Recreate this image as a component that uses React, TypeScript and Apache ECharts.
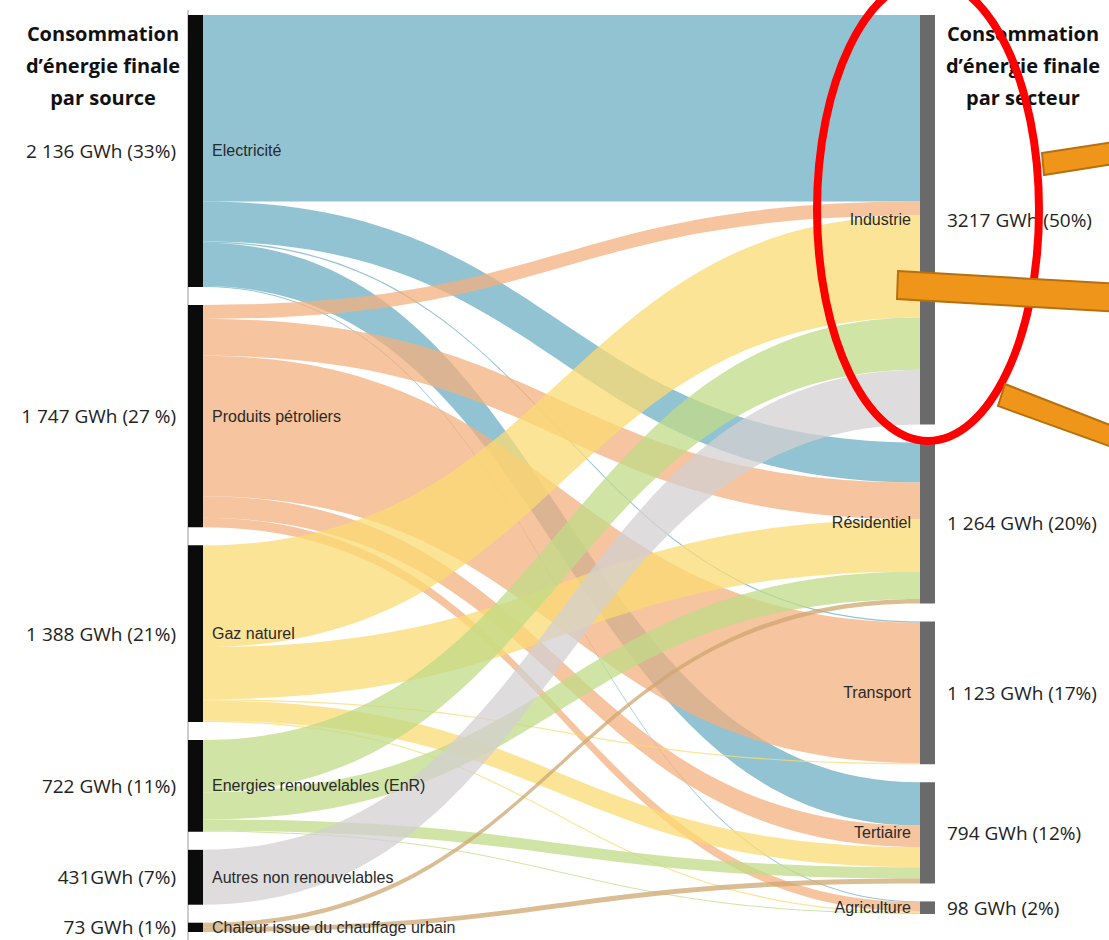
import React, { useEffect, useRef } from "react";
import * as echarts from "echarts";

// ---- Data ----
const sources = [
  "Electricité",
  "Produits pétroliers",
  "Gaz naturel",
  "Energies renouvelables (EnR)",
  "Autres non renouvelables",
  "Chaleur issue du chauffage urbain",
];
const sourceTotals = [2136, 1747, 1388, 722, 431, 73];
const sourceValueLabels = [
  "2 136 GWh (33%)",
  "1 747 GWh (27 %)",
  "1 388 GWh (21%)",
  "722 GWh (11%)",
  "431GWh (7%)",
  "73 GWh (1%)",
];

const sectors = ["Industrie", "Résidentiel", "Transport", "Tertiaire", "Agriculture"];
const sectorTotals = [3217, 1264, 1123, 794, 98];
const sectorValueLabels = [
  "3217 GWh (50%)",
  "1 264 GWh (20%)",
  "1 123 GWh (17%)",
  "794 GWh (12%)",
  "98 GWh (2%)",
];

// flows from each source to sectors (Industrie, Résidentiel, Transport, Tertiaire, Agriculture)
const flowElectricite = [1466, 314, 10, 339, 7];
const flowPetrole = [110, 290, 1103, 170, 74];
const flowGaz = [800, 410, 10, 158, 10];
const flowEnR = [410, 215, 0, 89, 8];
const flowAutres = [431, 0, 0, 0, 0];
const flowChaleur = [0, 35, 0, 38, 0];
const flows = [flowElectricite, flowPetrole, flowGaz, flowEnR, flowAutres, flowChaleur];

const sourceColors = ["#6eafc3", "#f3b07e", "#fbdb73", "#c0db87", "#d3d0d0", "#cfa770"];

const leftHeader = "Consommation\nd’énergie finale\npar source";
const rightHeader = "Consommation\nd’énergie finale\npar secteur";

export default function App() {
  const ref = useRef<HTMLDivElement>(null);

  useEffect(() => {
    if (!ref.current) return;
    const chart = echarts.init(ref.current, undefined, { renderer: "svg" });

    const links: any[] = [];
    flows.forEach((row, si) => {
      row.forEach((v, ti) => {
        if (v > 0) {
          links.push({
            source: sources[si],
            target: sectors[ti],
            value: v,
            lineStyle: { color: sourceColors[si] },
          });
        }
      });
    });

    const nodes = [
      ...sources.map((s, i) => ({
        name: s,
        value: sourceTotals[i],
        itemStyle: { color: "#0b0b0b", borderWidth: 0 },
        label: { position: "right", distance: 9 },
      })),
      ...sectors.map((s, i) => ({
        name: s,
        value: sectorTotals[i],
        itemStyle: { color: "#6a6a6a", borderWidth: 0 },
        label: { position: "left", distance: 9 },
      })),
    ];

    const valueNodes = [
      ...sources.map((s, i) => ({
        name: s,
        value: sourceTotals[i],
        itemStyle: { opacity: 0, borderWidth: 0 },
        label: { position: "left", distance: 12, formatter: sourceValueLabels[i] },
      })),
      ...sectors.map((s, i) => ({
        name: s,
        value: sectorTotals[i],
        itemStyle: { opacity: 0, borderWidth: 0 },
        label: { position: "right", distance: 12, formatter: sectorValueLabels[i] },
      })),
    ];

    const common = {
      type: "sankey",
      left: 188,
      right: 174,
      top: 15,
      bottom: 8,
      nodeWidth: 15,
      nodeGap: 18,
      layoutIterations: 0,
      draggable: false,
      emphasis: { disabled: true },
    };

    chart.setOption({
      animation: false,
      backgroundColor: "#ffffff",
      series: [
        {
          ...common,
          data: nodes,
          links,
          label: { fontFamily: "Liberation Sans", fontSize: 16, color: "#2a2a2a" },
          lineStyle: { opacity: 0.75, curveness: 0.5 },
        },
        {
          ...common,
          silent: true,
          data: valueNodes,
          links: links.map((l) => ({ source: l.source, target: l.target, value: l.value })),
          label: { fontFamily: "Open Sans", fontSize: 19, color: "#222222" },
          lineStyle: { opacity: 0 },
        },
      ],
      graphic: [
        {
          type: "line",
          z: 0,
          shape: { x1: 188, y1: 10, x2: 188, y2: 940 },
          style: { stroke: "#9a9a9a", lineWidth: 1 },
        },
        {
          type: "text",
          x: 103,
          y: 17,
          style: {
            text: leftHeader,
            fontFamily: "Open Sans",
            fontWeight: "bold",
            fontSize: 20,
            lineHeight: 32,
            fill: "#111111",
            align: "center",
            verticalAlign: "top",
          },
        },
        {
          type: "text",
          x: 1023,
          y: 17,
          style: {
            text: rightHeader,
            fontFamily: "Open Sans",
            fontWeight: "bold",
            fontSize: 20,
            lineHeight: 32,
            fill: "#111111",
            align: "center",
            verticalAlign: "top",
          },
        },
        {
          type: "ellipse",
          z: 100,
          shape: { cx: 928, cy: 210, rx: 111, ry: 231 },
          style: { fill: "none", stroke: "#ff0000", lineWidth: 8 },
        },
        {
          type: "polygon",
          z: 101,
          shape: { points: [[1042, 153], [1120, 141], [1120, 163], [1044, 175]] },
          style: { fill: "#ef9519", stroke: "#b7700e", lineWidth: 2 },
        },
        {
          type: "polygon",
          z: 101,
          shape: { points: [[898, 271], [1120, 284], [1120, 312], [897, 299]] },
          style: { fill: "#ef9519", stroke: "#b7700e", lineWidth: 2 },
        },
        {
          type: "polygon",
          z: 101,
          shape: { points: [[1005, 384], [1120, 429], [1120, 450], [998, 406]] },
          style: { fill: "#ef9519", stroke: "#b7700e", lineWidth: 2 },
        },
      ],
    });

    return () => chart.dispose();
  }, []);

  return (
    <div
      ref={ref}
      style={{ position: "absolute", left: 0, top: 0, width: 1109, height: 940, background: "#fff" }}
    />
  );
}
